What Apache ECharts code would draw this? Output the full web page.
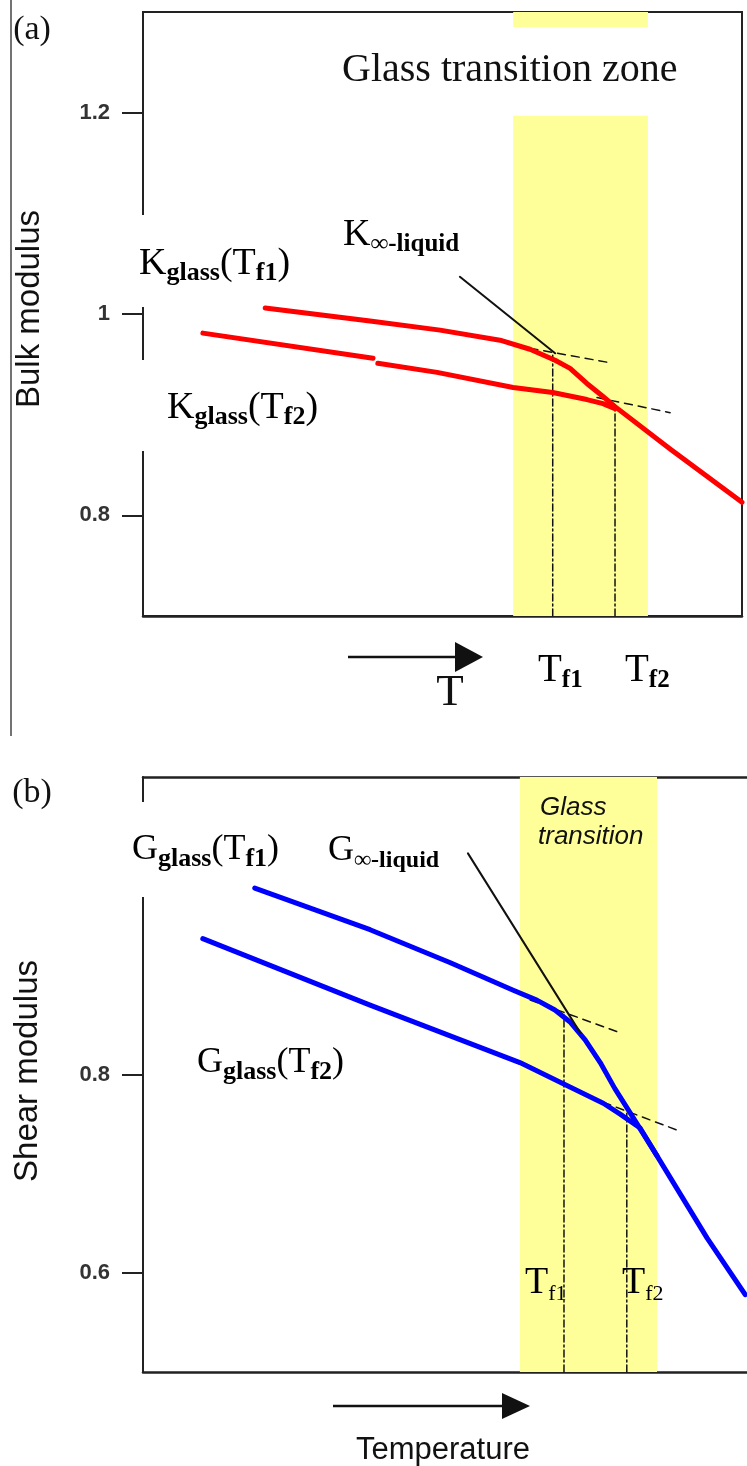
<!DOCTYPE html>
<html><head><meta charset="utf-8">
<script src="https://cdn.jsdelivr.net/npm/echarts@6/dist/echarts.min.js"></script>
<style>html,body{margin:0;padding:0;background:#fff}#c{width:747px;height:1466px}</style>
</head><body><div id="c"></div>
<script>
// ---------- data (x: arbitrary temperature scale 0-100) ----------
const yTicksA = [0.8, 1.0, 1.2];
const yTicksB = [0.6, 0.8];
const zoneA = [61.8, 84.3];
const zoneAGap = [1.197, 1.285];
const zoneB = [62.4, 85.1];
const kGlassTf1 = [[20.4,1.006],[37.9,0.993],[49.6,0.984],[59.6,0.974],[64.6,0.965],[68.8,0.954],[71.3,0.946],[74.1,0.931],[76.8,0.918],[78.8,0.908],[88.0,0.866],[100,0.813]];
const kGlassTf2 = [[10.0,0.981],[38.4,0.956],[38.8,'-'],[39.2,0.951],[49.1,0.942],[61.8,0.927],[68.4,0.922],[74.1,0.915],[76.8,0.911],[78.8,0.906]];
const kLiquid = [[52.9,1.037],[68.8,0.961]];
const kTangent1 = [[64.6,0.966],[77.6,0.952]];
const kTangent2 = [[75.8,0.917],[88.0,0.902]];
const kTfX = [68.4, 78.8];
const kTfTop = [0.959, 0.907];
const gGlassTf1 = [[18.5,0.988],[37.6,0.946],[50.8,0.913],[61.3,0.885],[65.2,0.875],[68.2,0.865],[70.7,0.853],[73.2,0.835],[75.7,0.812],[78.1,0.786],[81.1,0.757],[85.1,0.718],[93.4,0.635],[99.7,0.578]];
const gGlassTf2 = [[9.9,0.937],[37.6,0.870],[62.4,0.812],[69.5,0.791],[76.2,0.771],[79.0,0.760],[82.3,0.746],[85.1,0.718]];
const gLiquid = [[53.8,1.023],[72.4,0.842]];
const gTangent1 = [[64.1,0.875],[78.6,0.843]];
const gTangent2 = [[74.0,0.777],[88.4,0.744]];
const gTfX = [69.7, 80.1];
const gTfTop = [0.860, 0.761];

// ---------- styles ----------
const SERIF = "'Liberation Serif','DejaVu Serif',serif";
const SANS = "'Liberation Sans',Arial,sans-serif";
const AX = '#222';
const YEL = '#ffff99';

function line(data, xi, yi, color, width, dash, z) {
  return { type: 'line', xAxisIndex: xi, yAxisIndex: yi, data: data, showSymbol: false, symbol: 'none',
    smooth: false, silent: true, z: z || 3, animation: false,
    lineStyle: { color: color, width: width, type: dash || 'solid', cap: 'round', join: 'round' } };
}
function vline(x, top, bottom, xi, yi) {
  return line([[x, bottom], [x, top]], xi, yi, '#111', 1.5, [7, 3, 2, 3], 4);
}

const series = [
  { type: 'line', xAxisIndex: 0, yAxisIndex: 0, data: [], z: 1, silent: true,
    markArea: { silent: true, itemStyle: { color: YEL }, data: [
      [{ xAxis: zoneA[0], yAxis: 1.3 }, { xAxis: zoneA[1], yAxis: zoneAGap[1] }],
      [{ xAxis: zoneA[0], yAxis: zoneAGap[0] }, { xAxis: zoneA[1], yAxis: 0.7 }] ] } },
  { type: 'line', xAxisIndex: 1, yAxisIndex: 1, data: [], z: 1, silent: true,
    markArea: { silent: true, itemStyle: { color: YEL }, data: [
      [{ xAxis: zoneB[0], yAxis: 1.1 }, { xAxis: zoneB[1], yAxis: 0.5 }] ] } },
  vline(kTfX[0], kTfTop[0], 0.7, 0, 0),
  vline(kTfX[1], kTfTop[1], 0.7, 0, 0),
  line(kTangent1, 0, 0, '#111', 1.5, [8, 6], 4),
  line(kTangent2, 0, 0, '#111', 1.5, [8, 6], 4),
  line(kGlassTf2, 0, 0, '#ff0000', 5, 'solid', 5),
  line(kGlassTf1, 0, 0, '#ff0000', 5, 'solid', 5),
  line(kLiquid, 0, 0, '#111', 2, 'solid', 6),
  vline(gTfX[0], gTfTop[0], 0.5, 1, 1),
  vline(gTfX[1], gTfTop[1], 0.5, 1, 1),
  line(gTangent1, 1, 1, '#111', 1.5, [8, 6], 4),
  line(gTangent2, 1, 1, '#111', 1.5, [8, 6], 4),
  line(gGlassTf2, 1, 1, '#0000ff', 5, 'solid', 5),
  line(gGlassTf1, 1, 1, '#0000ff', 5, 'solid', 5),
  line(gLiquid, 1, 1, '#111', 2, 'solid', 6)
];

function xAx(gi, pos) {
  return { type: 'value', gridIndex: gi, position: pos, min: 0, max: 100,
    axisLine: { show: true, onZero: false, lineStyle: { color: AX, width: 2.5 } },
    axisTick: { show: false }, axisLabel: { show: false }, splitLine: { show: false } };
}
function yAx(gi, min, max, ticks) {
  return { type: 'value', gridIndex: gi, min: min, max: max,
    axisLine: { show: true, onZero: false, lineStyle: { color: AX, width: 2 } },
    axisTick: { show: true, length: 21, customValues: ticks, lineStyle: { color: AX, width: 2 } },
    axisLabel: { show: true, customValues: ticks, margin: 33, fontFamily: SANS, fontSize: 22,
      fontWeight: 'bold', color: '#333' },
    splitLine: { show: false } };
}

// ---------- annotations ----------
function rich(x, y, text, M, S, subBold, color) {
  return { type: 'text', z: 110, style: { x: x, y: y, text: text, align: 'left', verticalAlign: 'middle',
    textAlign: 'left', textVerticalAlign: 'middle',
    rich: {
      m: { fontFamily: SERIF, fontSize: M, lineHeight: 44, color: color || '#111' },
      s: { fontFamily: SERIF, fontSize: S, fontWeight: subBold ? 'bold' : 'normal', lineHeight: 20,
        verticalAlign: 'bottom', color: color || '#111' }
    } } };
}
function txt(x, y, text, font, align, extra) {
  const o = { type: 'text', z: 110, style: { x: x, y: y, text: text, font: font, fill: '#111',
    align: align, verticalAlign: 'middle', textAlign: align, textVerticalAlign: 'middle' } };
  return Object.assign(o, extra || {});
}
function arrow(x0, x1, y, headLen, headHalf) {
  return { type: 'group', z: 110, children: [
    { type: 'line', z: 110, shape: { x1: x0, y1: y, x2: x1 - headLen + 2, y2: y }, style: { stroke: '#111', lineWidth: 2.5 } },
    { type: 'polygon', z: 110, shape: { points: [[x1 - headLen, y - headHalf], [x1, y], [x1 - headLen, y + headHalf]] }, style: { fill: '#111' } }
  ] };
}
function whiteBox(x, y, w, h) {
  return { type: 'rect', z: 100, shape: { x: x, y: y, width: w, height: h }, style: { fill: '#fff' } };
}

const graphic = [
  { type: 'line', z: 100, shape: { x1: 11, y1: 0, x2: 11, y2: 736 }, style: { stroke: '#444', lineWidth: 1.5 } },
  whiteBox(134, 215, 16, 92),
  whiteBox(134, 360, 16, 91),
  whiteBox(134, 802, 16, 95),
  txt(32, 30, '(a)', '34px ' + SERIF, 'center'),
  txt(32, 793, '(b)', '34px ' + SERIF, 'center'),
  txt(0, 0, 'Bulk modulus', '33px ' + SANS, 'center', { x: 30, y: 309, rotation: Math.PI / 2 }),
  txt(0, 0, 'Shear modulus', '33px ' + SANS, 'center', { x: 28, y: 1071, rotation: Math.PI / 2 }),
  txt(342, 70, 'Glass transition zone', '40px ' + SERIF, 'left'),
  txt(540, 808, 'Glass', 'italic 26px ' + SANS, 'left'),
  txt(538, 837, 'transition', 'italic 26px ' + SANS, 'left'),
  rich(139, 264, '{m|K}{s|glass}{m|(T}{s|f1}{m|)}', 38, 26, true),
  rich(167, 408, '{m|K}{s|glass}{m|(T}{s|f2}{m|)}', 38, 26, true),
  rich(343, 235, '{m|K}{s|∞-liquid}', 38, 25, true),
  rich(132, 850, '{m|G}{s|glass}{m|(T}{s|f1}{m|)}', 36, 26, true),
  rich(328, 851, '{m|G}{s|∞-liquid}', 36, 24, true),
  rich(197, 1063, '{m|G}{s|glass}{m|(T}{s|f2}{m|)}', 36, 26, true),
  rich(538, 671, '{m|T}{s|f1}', 39, 25, true),
  rich(625, 671, '{m|T}{s|f2}', 39, 25, true),
  txt(450, 693, 'T', '45px ' + SERIF, 'center'),
  rich(525, 1283, '{m|T}{s|f1}', 38, 22, false, '#333'),
  rich(622, 1283, '{m|T}{s|f2}', 38, 22, false, '#333'),
  arrow(348, 483, 657, 28, 15),
  arrow(333, 530, 1406, 28, 13),
  txt(443, 1450, 'Temperature', '31px ' + SANS, 'center')
];

const chart = echarts.init(document.getElementById('c'), null, { renderer: 'canvas' });
chart.setOption({
  animation: false,
  backgroundColor: '#fff',
  grid: [
    { left: 143, top: 12, width: 599, height: 604, show: true, borderColor: AX, borderWidth: 2, backgroundColor: 'transparent' },
    { left: 143, top: 777, width: 604, height: 595 }
  ],
  xAxis: [xAx(0, 'bottom'), xAx(1, 'bottom'), xAx(1, 'top')],
  yAxis: [yAx(0, 0.7, 1.3, yTicksA), yAx(1, 0.5, 1.1, yTicksB)],
  series: series,
  graphic: graphic
});
</script></body></html>
